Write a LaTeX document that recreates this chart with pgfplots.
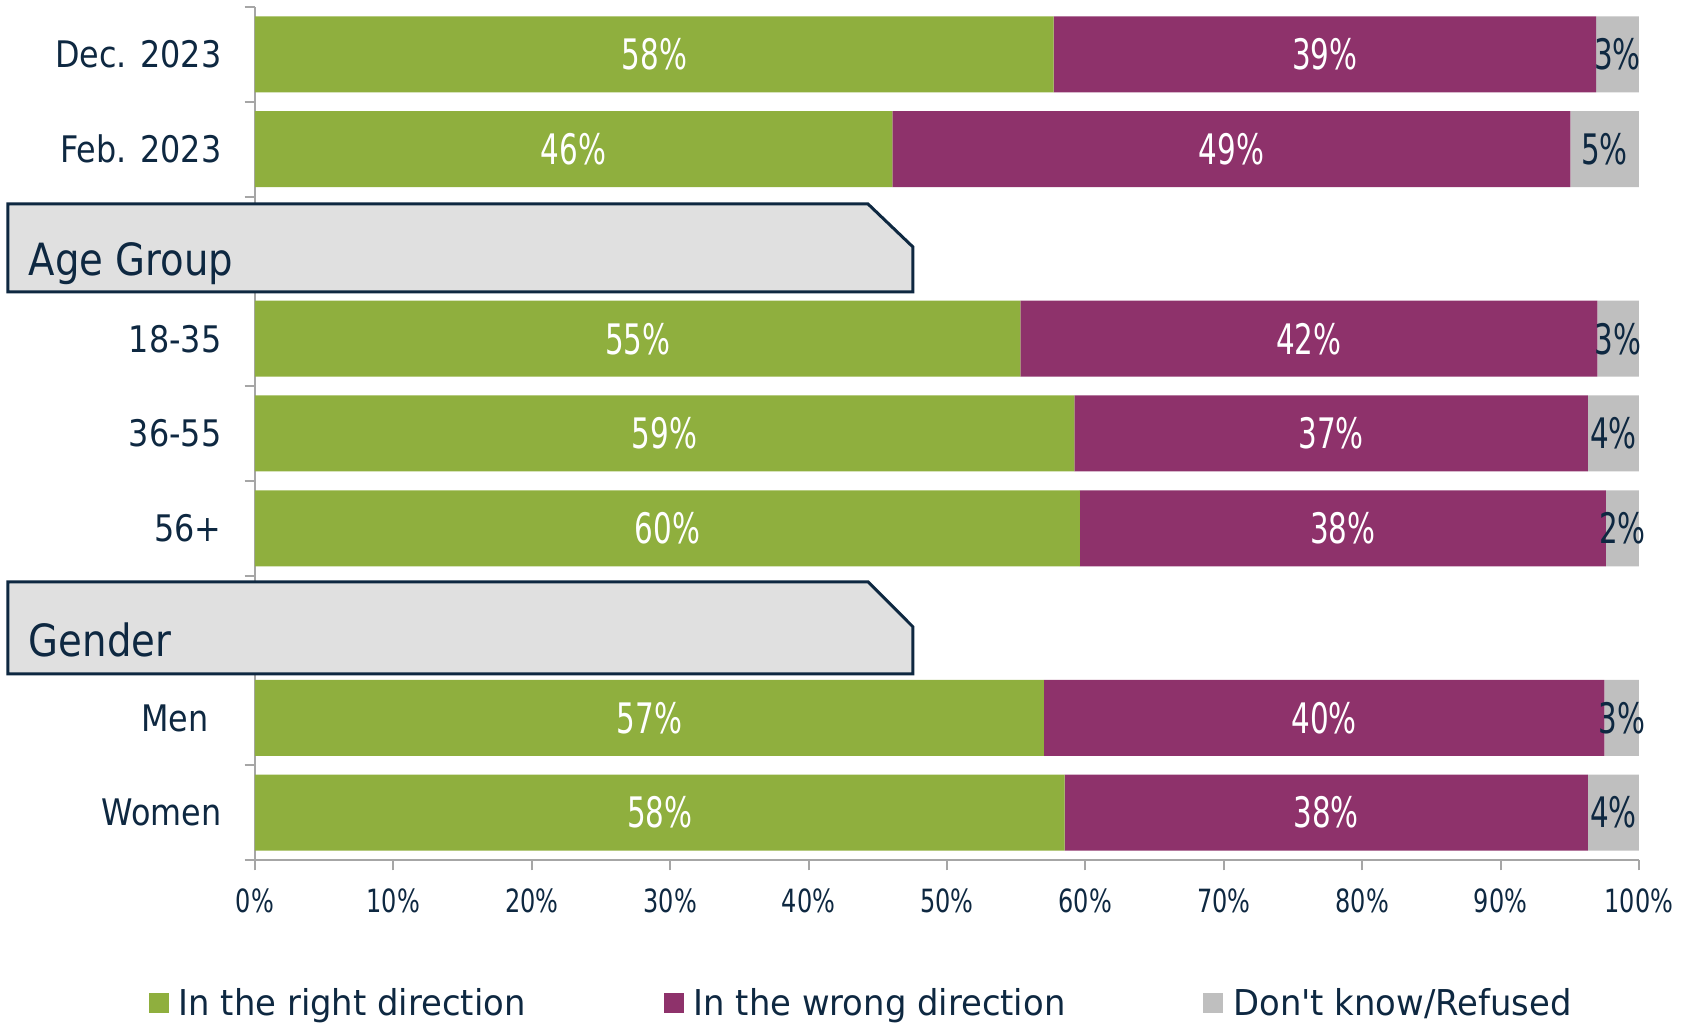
\documentclass[border=0pt]{standalone}
\usepackage{pgfplots}
\usepackage{pgfplotstable}
\pgfplotsset{compat=1.18}
\usepackage{fontspec}
\setmainfont{DejaVu Sans}[FakeStretch=0.87]
\newfontfamily\catfont{DejaVu Sans}[FakeStretch=0.87]
\newfontfamily\hdrfont{DejaVu Sans}[FakeStretch=0.87]
\newfontfamily\lblfont{DejaVu Sans}[FakeStretch=0.70]
\newfontfamily\tckfont{DejaVu Sans}[FakeStretch=0.75]
\newfontfamily\legfont{DejaVu Sans}[FakeStretch=0.95]
\definecolor{cgreen}{RGB}{143,175,62}
\definecolor{cpurple}{RGB}{142,50,107}
\definecolor{cgray}{RGB}{191,191,191}
\definecolor{navy}{RGB}{14,40,65}
\definecolor{axgray}{RGB}{166,166,166}
\definecolor{boxfill}{RGB}{224,224,224}

% y: 8 Dec. 2023, 7 Feb. 2023, 6 (Age Group), 5 18-35, 4 36-55, 3 56+, 2 (Gender), 1 Men, 0 Women
\pgfplotstableread{
y right wrong dk
8 57.7 39.2 3.1
7 46.05 49.0 4.95
5 55.3 41.7 3.0
4 59.2 37.1 3.7
3 59.6 38.0 2.4
1 57.0 40.5 2.5
0 58.5 37.8 3.7
}\bars

\pgfplotstableread{
x y v
28.85 8 58
77.3 8 39
23.0 7 46
70.55 7 49
27.65 5 55
76.15 5 42
29.6 4 59
77.75 4 37
29.8 3 60
78.6 3 38
28.5 1 57
77.25 1 40
29.25 0 58
77.4 0 38
}\whitelbl

\pgfplotstableread{
x y v
98.45 8 3
97.5 7 5
98.5 5 3
98.15 4 4
98.8 3 2
98.75 1 3
98.15 0 4
}\navylbl

\begin{document}
\begin{tikzpicture}
\path[use as bounding box] (0,0) rectangle (424pt,256pt);
\begin{axis}[
  at={(63.75pt,41pt)}, anchor=south west,
  scale only axis, width=346pt, height=213.25pt,
  xbar stacked, bar width=19pt,
  xmin=0, xmax=100, ymin=-0.5, ymax=8.5,
  axis x line*=bottom, axis y line*=left,
  axis line style={draw=axgray, line width=0.5pt, -},
  tick align=outside,
  major tick length=2.6pt,
  tick style={draw=axgray, line width=0.5pt},
  xtick={0,10,...,100},
  xticklabels={0\%,10\%,20\%,30\%,40\%,50\%,60\%,70\%,80\%,90\%,100\%},
  xticklabel style={font=\tckfont\fontsize{8pt}{9pt}\selectfont, text=navy, anchor=base, inner sep=0pt, yshift=-10.6pt},
  ytick={-0.5,0.5,...,8.5},
  y tick label as interval,
  yticklabels={Women,Men\hspace*{3.2pt},,56+,36-55,18-35,,Feb. 2023,Dec. 2023,},
  yticklabel style={font=\catfont\fontsize{9.15pt}{11pt}\selectfont, text=navy, anchor=east, inner sep=0pt, text height=6.67pt, text depth=0pt, xshift=-5.6pt},
  legend columns=3,
  legend style={at={(axis description cs:-0.0773,-0.1676)}, anchor=west, draw=none, fill=none, inner sep=0pt,
    font=\legfont\fontsize{8.9pt}{10pt}\selectfont, text=navy,
    nodes={inner sep=0pt, text height=6.5pt, text depth=0pt},
    /tikz/every odd column/.append style={column sep=2.5pt},
    /tikz/every even column/.append style={column sep=34.5pt}},
  legend image code/.code={\fill[#1] (0pt,-2.5pt) rectangle (5pt,2.5pt);},
  legend cell align=left,
]
\addplot[fill=cgreen, draw=none] table[x=right, y=y] {\bars};
\addplot[fill=cpurple, draw=none] table[x=wrong, y=y] {\bars};
\addplot[fill=cgray, draw=none] table[x=dk, y=y] {\bars};
\legend{In the right direction, In the wrong direction, Don't know/Refused}
\end{axis}
\begin{axis}[
  at={(63.75pt,41pt)}, anchor=south west,
  scale only axis, width=346pt, height=213.25pt,
  xmin=0, xmax=100, ymin=-0.5, ymax=8.5,
  hide axis, clip=false,
  point meta=explicit symbolic,
  nodes near coords={\pgfplotspointmeta\%},
  nodes near coords align={center},
]
\draw[draw=navy, fill=boxfill, line width=0.75pt] (axis cs:-17.85,5.494) -- (axis cs:-17.85,6.422) -- (axis cs:44.29,6.422) -- (axis cs:47.54,5.968) -- (axis cs:47.54,5.494) -- cycle;
\draw[draw=navy, fill=boxfill, line width=0.75pt] (axis cs:-17.85,1.464) -- (axis cs:-17.85,2.435) -- (axis cs:44.29,2.435) -- (axis cs:47.54,1.960) -- (axis cs:47.54,1.464) -- cycle;
\node[anchor=base west, inner sep=0pt, font=\hdrfont\fontsize{11.1pt}{12pt}\selectfont, text=navy] at (axis cs:-16.40,5.662) {Age Group};
\node[anchor=base west, inner sep=0pt, font=\hdrfont\fontsize{11.1pt}{12pt}\selectfont, text=navy] at (axis cs:-16.40,1.643) {Gender};
\addplot[draw=none, mark=none, every node near coord/.append style={font=\lblfont\fontsize{10.5pt}{12pt}\selectfont, text=white, inner sep=0pt, text height=7.65pt, text depth=0pt}] table[x=x, y=y, meta=v] {\whitelbl};
\addplot[draw=none, mark=none, every node near coord/.append style={font=\lblfont\fontsize{10.5pt}{12pt}\selectfont, text=navy, inner sep=0pt, text height=7.65pt, text depth=0pt}] table[x=x, y=y, meta=v] {\navylbl};
\end{axis}
\end{tikzpicture}
\end{document}
